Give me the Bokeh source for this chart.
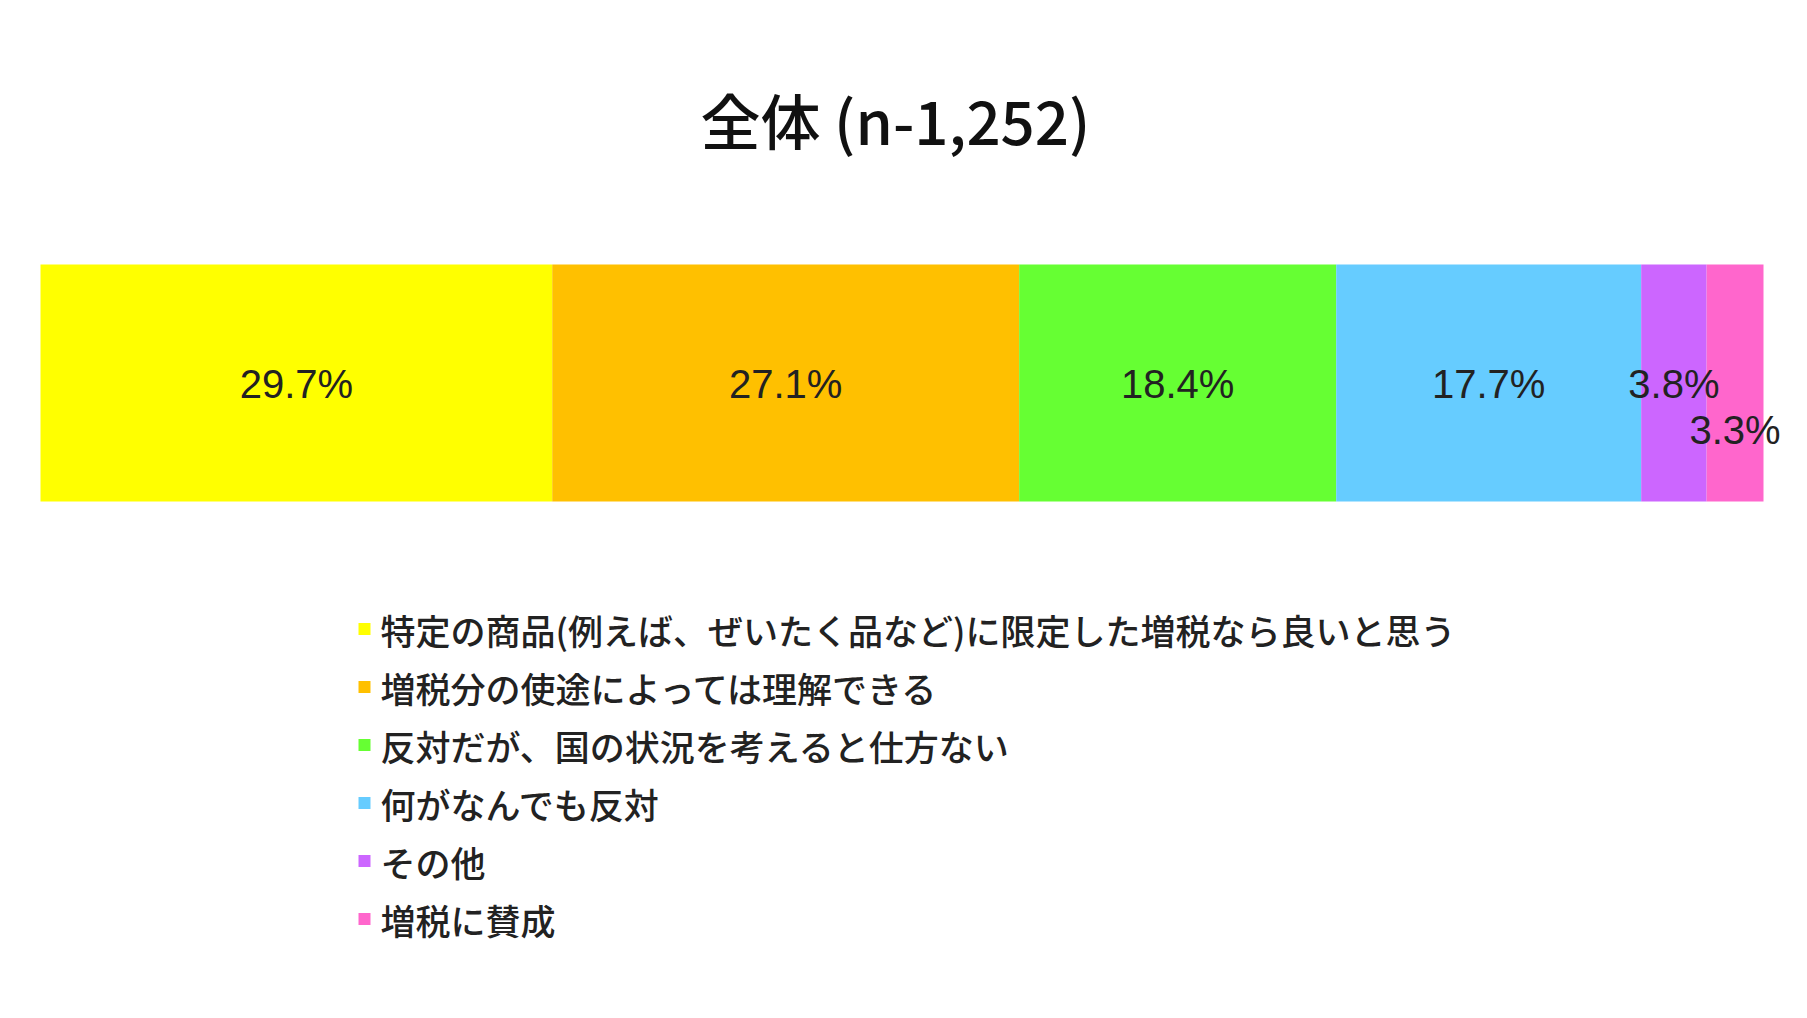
from bokeh.plotting import figure
from bokeh.models import Range1d, ColumnDataSource
from bokeh.core.properties import value
from bokeh.embed import file_html
from bokeh.resources import INLINE

# データ（全体 n=1,252）
categories = [
    "特定の商品(例えば、ぜいたく品など)に限定した増税なら良いと思う",
    "増税分の使途によっては理解できる",
    "反対だが、国の状況を考えると仕方ない",
    "何がなんでも反対",
    "その他",
    "増税に賛成",
]
percents = [29.7, 27.1, 18.4, 17.7, 3.8, 3.3]
labels = ["29.7%", "27.1%", "18.4%", "17.7%", "3.8%", "3.3%"]
colors = ["#FFFF00", "#FFC000", "#66FF33", "#66CCFF", "#CC66FF", "#FF66CC"]
title_text = "全体 (n-1,252)"

W, H = 1791, 1002
# 0% -> 40px, 100% -> 1763px
x0_px, px_per_pct = 40, 17.23
JP = "Noto Sans CJK JP Medium"


def px(p):
    # figure pixel -> percent units
    return (p - x0_px) / px_per_pct


starts, ends = [], []
acc = 0.0
for v in percents:
    starts.append(acc)
    acc += v
    ends.append(acc)
mids = [(a + b) / 2 for a, b in zip(starts, ends)]

bar_y, bar_h = 382.5, 237
label_dy = [1, 1, 1, 1, 1, 47]

p = figure(width=W, height=H, output_backend="svg", toolbar_location=None,
           x_range=Range1d(px(0), px(W)), y_range=Range1d(H, 0),
           min_border=0, outline_line_color=None, tools="")
p.axis.visible = False
p.grid.visible = False
p.background_fill_color = "white"
p.border_fill_color = "white"

src = ColumnDataSource(dict(left=starts, right=ends, color=colors, mid=mids, label=labels,
                            ly=[bar_y + d for d in label_dy]))
p.hbar(y=bar_y, left="left", right="right", height=bar_h, fill_color="color",
       line_color=None, source=src)
p.text(x="mid", y="ly", text="label", source=src, text_align="center",
       text_baseline="middle", text_font=value("Liberation Sans"),
       text_font_size="40px", text_color="#222222")

# タイトル
p.text(x=[px(895)], y=[118], text=[title_text], text_align="center",
       text_baseline="middle", text_font=value(JP),
       text_font_size="60px", text_color="#111111")

# 凡例
row_y = [628.5 + 58 * i for i in range(len(categories))]
leg = ColumnDataSource(dict(y=row_y, color=colors, cat=categories))
p.scatter(x=px(364), y="y", marker="square", size=12, fill_color="color",
          line_color=None, source=leg)
p.text(x=px(380), y="y", text="cat", source=leg, text_align="left",
       text_baseline="middle", text_font=value(JP),
       text_font_size="35px", text_color="#222222")

open("out.html", "w").write(file_html(p, INLINE))
